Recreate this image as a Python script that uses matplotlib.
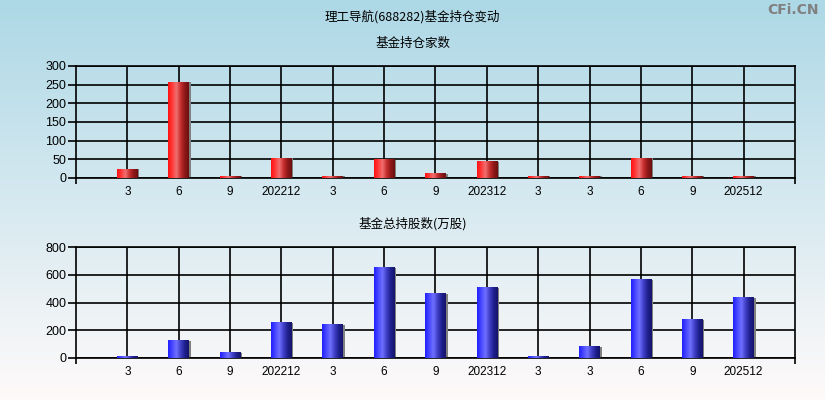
import numpy as np
import matplotlib
matplotlib.use("Agg")
import matplotlib.pyplot as plt
from matplotlib.colors import LinearSegmentedColormap

plt.rcParams['font.family'] = ['Noto Sans CJK SC', 'DejaVu Sans']

# 数据
labels = ['3', '6', '9', '202212', '3', '6', '9', '202312', '3', '3', '6', '9', '202512']
jiashu = [24, 257, 5, 53, 5, 49, 11, 43, 5, 5, 53, 5, 5]
chigu = [10, 125, 38, 254, 240, 650, 463, 506, 10, 81, 563, 276, 434]

red_cm = LinearSegmentedColormap.from_list('r', ['#ff1010', '#ff3a3a', '#f07070', '#c83030', '#901818', '#6a1010'])
blue_cm = LinearSegmentedColormap.from_list('b', ['#2020ff', '#4848ff', '#7070ff', '#4040c8', '#202090', '#14146a'])

fig = plt.figure(figsize=(8.25, 4), dpi=100)

# 背景渐变
bg = fig.add_axes([0, 0, 1, 1], zorder=-10)
top = np.array([173, 216, 230]) / 255
bot = np.array([255, 250, 250]) / 255
t = np.linspace(0, 1, 200)[:, None]
grad = top * (1 - t) + bot * t
bg.imshow(grad[:, None, :].repeat(2, axis=1), aspect='auto', extent=(0, 1, 0, 1))
bg.axis('off')


def draw(ax, vals, cm, ymax, step):
    x = np.arange(1, len(vals) + 1)
    w = 0.4
    g = np.linspace(0, 1, 64)[None, :]
    for xi, v in zip(x, vals):
        ax.bar(xi + 0.035, v, width=w, color='#808080', zorder=2)
        ax.imshow(g, cmap=cm, aspect='auto', extent=(xi - w / 2, xi + w / 2, 0, v), zorder=3)
    ax.set_xlim(0, len(vals) + 1)
    ax.set_ylim(0, ymax)
    ax.set_yticks(np.arange(0, ymax + 1, step))
    ax.set_xticks(x)
    ax.set_xticklabels(labels)
    ax.set_xticks([0, len(vals) + 1], minor=True)
    ax.tick_params(axis='x', which='major', length=0, pad=6, labelsize=8.5)
    ax.tick_params(axis='x', which='minor', length=4, width=1.2, direction='out')
    ax.tick_params(axis='y', length=6, width=1.2, pad=1, labelsize=9)
    ax.grid(True, color='black', linewidth=1.2, zorder=1)
    ax.set_axisbelow(True)
    ax.patch.set_alpha(0)
    for s in ax.spines.values():
        s.set_linewidth(1.2)
    for lab in ax.get_xticklabels() + ax.get_yticklabels():
        lab.set_family(['Liberation Sans', 'DejaVu Sans'])


ax1 = fig.add_axes([0.0921, 0.555, 0.8715, 0.28])
draw(ax1, jiashu, red_cm, 300, 50)
ax2 = fig.add_axes([0.0921, 0.105, 0.8715, 0.2775])
draw(ax2, chigu, blue_cm, 800, 200)

fig.text(0.5, 1 - 17 / 400, '理工导航(688282)基金持仓变动', ha='center', va='center', fontsize=9)
fig.text(0.5, 1 - 43 / 400, '基金持仓家数', ha='center', va='center', fontsize=9)
fig.text(0.5, 1 - 224 / 400, '基金总持股数(万股)', ha='center', va='center', fontsize=9)
fig.text(0.993, 1 - 10 / 400, 'CFi.CN', ha='right', va='center', fontsize=10,
         color='#808080', fontweight='bold', family=['DejaVu Sans'])

fig.savefig('out.png', dpi=100)
